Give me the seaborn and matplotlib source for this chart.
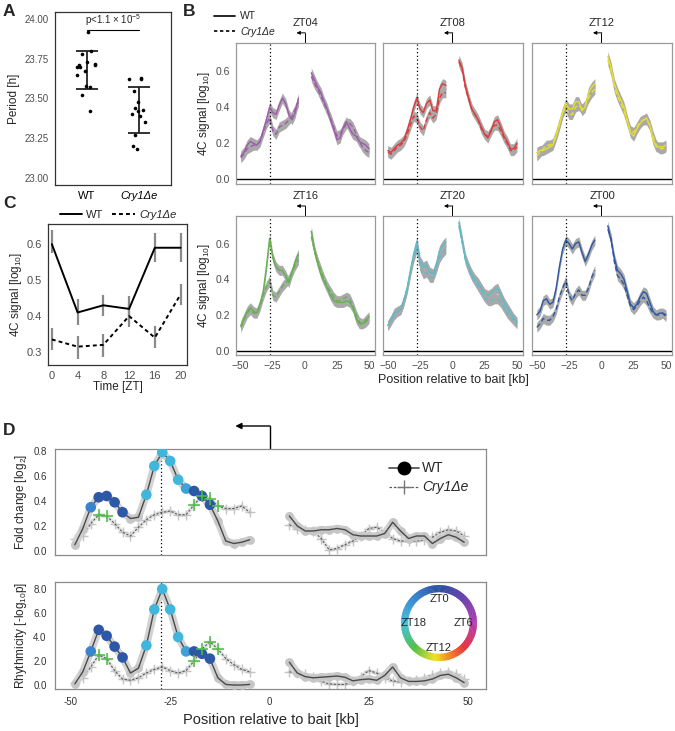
import numpy as np
import pandas as pd
import matplotlib
matplotlib.use("Agg")
import matplotlib.pyplot as plt
import seaborn as sns
from matplotlib.lines import Line2D
from matplotlib.patches import Wedge
from matplotlib.colors import LinearSegmentedColormap

# ------------------------------------------------------------------ data
# Panel A : free-running period
genotypes = ["WT", "Cry1\u0394e"]
period_wt = [23.92, 23.80, 23.78, 23.73, 23.72, 23.71, 23.71, 23.70, 23.70,
             23.67, 23.65, 23.58, 23.57, 23.52, 23.42]
period_ko = [23.63, 23.62, 23.62, 23.55, 23.48, 23.44, 23.43, 23.42, 23.40,
             23.39, 23.35, 23.27, 23.20, 23.18]
p_text = r"p<1.1 $\times$ 10$^{-5}$"

# Panel C : 4C signal at the peak over time
zt_time = [0, 4, 8, 12, 16, 20]
c_wt = [0.60, 0.41, 0.43, 0.42, 0.59, 0.59]
c_wt_lo = [0.575, 0.375, 0.400, 0.390, 0.550, 0.550]
c_wt_hi = [0.640, 0.447, 0.460, 0.455, 0.630, 0.630]
c_ko = [0.335, 0.315, 0.320, 0.400, 0.340, 0.460]
c_ko_lo = [0.305, 0.280, 0.285, 0.370, 0.310, 0.430]
c_ko_hi = [0.367, 0.345, 0.350, 0.435, 0.372, 0.490]

# Panel B : 4C profiles
pos_left = [-50, -47.5, -45, -42.5, -40, -37.5, -35, -32.5, -30, -27.5, -25,
            -22.5, -20, -17.5, -15, -12.5, -10, -7.5, -5]
pos_right = [5, 7.5, 10, 12.5, 15, 17.5, 20, 22.5, 25, 27.5, 30, 32.5, 35,
             37.5, 40, 42.5, 45, 47.5, 50]
zt_labels = ["ZT04", "ZT08", "ZT12", "ZT16", "ZT20", "ZT00"]
zt_colors = ["#a05aae", "#e0393b", "#e8e02a", "#62b34a", "#5cbccb", "#2c58a5"]

zt04_wt_l = [0.13, 0.15, 0.19, 0.21, 0.20, 0.19, 0.21, 0.27, 0.33, 0.40, 0.37, 0.36, 0.41, 0.45, 0.42, 0.36, 0.33, 0.37, 0.45]
zt04_ko_l = [0.12, 0.14, 0.17, 0.18, 0.19, 0.19, 0.21, 0.26, 0.31, 0.34, 0.27, 0.25, 0.29, 0.30, 0.31, 0.33, 0.35, 0.39, 0.43]
zt04_wt_r = [0.59, 0.55, 0.51, 0.48, 0.43, 0.39, 0.33, 0.28, 0.22, 0.23, 0.29, 0.32, 0.28, 0.25, 0.24, 0.21, 0.20, 0.19, 0.17]
zt04_ko_r = [0.57, 0.53, 0.50, 0.46, 0.42, 0.38, 0.34, 0.29, 0.24, 0.25, 0.28, 0.31, 0.31, 0.29, 0.25, 0.21, 0.18, 0.16, 0.15]

zt08_wt_l = [0.16, 0.15, 0.17, 0.19, 0.20, 0.22, 0.27, 0.33, 0.40, 0.45, 0.39, 0.37, 0.42, 0.44, 0.38, 0.38, 0.50, 0.53, 0.52]
zt08_ko_l = [0.15, 0.14, 0.16, 0.18, 0.19, 0.21, 0.25, 0.30, 0.35, 0.34, 0.29, 0.27, 0.33, 0.37, 0.34, 0.36, 0.45, 0.48, 0.48]
zt08_wt_r = [0.66, 0.62, 0.52, 0.45, 0.39, 0.36, 0.33, 0.29, 0.25, 0.23, 0.27, 0.32, 0.33, 0.29, 0.24, 0.21, 0.17, 0.17, 0.20]
zt08_ko_r = [0.65, 0.61, 0.51, 0.45, 0.39, 0.36, 0.33, 0.28, 0.25, 0.24, 0.27, 0.30, 0.30, 0.27, 0.23, 0.20, 0.16, 0.16, 0.18]

zt12_wt_l = [0.15, 0.16, 0.16, 0.17, 0.18, 0.19, 0.24, 0.30, 0.37, 0.42, 0.39, 0.39, 0.43, 0.43, 0.38, 0.40, 0.48, 0.51, 0.53]
zt12_ko_l = [0.13, 0.15, 0.17, 0.19, 0.19, 0.20, 0.25, 0.31, 0.37, 0.40, 0.36, 0.36, 0.40, 0.41, 0.39, 0.41, 0.45, 0.48, 0.50]
zt12_wt_r = [0.68, 0.62, 0.53, 0.48, 0.44, 0.40, 0.33, 0.26, 0.24, 0.28, 0.31, 0.33, 0.34, 0.30, 0.22, 0.18, 0.18, 0.18, 0.19]
zt12_ko_r = [0.66, 0.60, 0.51, 0.46, 0.42, 0.38, 0.32, 0.27, 0.26, 0.29, 0.32, 0.33, 0.33, 0.30, 0.24, 0.19, 0.17, 0.17, 0.18]

zt16_wt_l = [0.14, 0.18, 0.22, 0.24, 0.22, 0.21, 0.26, 0.33, 0.47, 0.63, 0.52, 0.47, 0.45, 0.45, 0.42, 0.38, 0.44, 0.50, 0.54]
zt16_ko_l = [0.13, 0.17, 0.21, 0.23, 0.21, 0.21, 0.25, 0.31, 0.36, 0.39, 0.31, 0.30, 0.33, 0.36, 0.38, 0.40, 0.44, 0.48, 0.51]
zt16_wt_r = [0.67, 0.56, 0.49, 0.43, 0.39, 0.35, 0.31, 0.28, 0.27, 0.27, 0.27, 0.28, 0.27, 0.24, 0.18, 0.15, 0.15, 0.17, 0.19]
zt16_ko_r = [0.64, 0.56, 0.50, 0.45, 0.40, 0.36, 0.33, 0.30, 0.28, 0.28, 0.29, 0.30, 0.29, 0.25, 0.20, 0.16, 0.15, 0.16, 0.18]

zt20_wt_l = [0.14, 0.17, 0.21, 0.22, 0.23, 0.28, 0.35, 0.45, 0.54, 0.61, 0.50, 0.47, 0.48, 0.44, 0.43, 0.48, 0.56, 0.59, 0.61]
zt20_ko_l = [0.14, 0.17, 0.20, 0.22, 0.23, 0.28, 0.35, 0.44, 0.52, 0.58, 0.47, 0.43, 0.44, 0.41, 0.41, 0.46, 0.52, 0.55, 0.57]
zt20_wt_r = [0.72, 0.62, 0.52, 0.47, 0.43, 0.40, 0.38, 0.35, 0.32, 0.31, 0.32, 0.34, 0.35, 0.31, 0.27, 0.24, 0.21, 0.18, 0.16]
zt20_ko_r = [0.70, 0.61, 0.51, 0.46, 0.42, 0.39, 0.36, 0.33, 0.30, 0.28, 0.28, 0.29, 0.29, 0.27, 0.24, 0.21, 0.19, 0.17, 0.15]

zt00_wt_l = [0.20, 0.22, 0.28, 0.29, 0.26, 0.27, 0.35, 0.47, 0.57, 0.62, 0.60, 0.57, 0.60, 0.61, 0.55, 0.50, 0.54, 0.59, 0.62]
zt00_ko_l = [0.13, 0.15, 0.18, 0.17, 0.17, 0.19, 0.23, 0.30, 0.35, 0.39, 0.31, 0.28, 0.32, 0.34, 0.31, 0.31, 0.35, 0.41, 0.45]
zt00_wt_r = [0.70, 0.62, 0.52, 0.45, 0.43, 0.40, 0.33, 0.26, 0.24, 0.26, 0.30, 0.33, 0.32, 0.27, 0.22, 0.20, 0.21, 0.21, 0.20]
zt00_ko_r = [0.68, 0.63, 0.50, 0.42, 0.40, 0.37, 0.31, 0.25, 0.23, 0.25, 0.28, 0.30, 0.28, 0.24, 0.21, 0.20, 0.20, 0.21, 0.19]

# Panel D : fold change and rhythmicity
d_pos_left = [-49, -47, -45, -43, -41, -39, -37, -35, -33, -31, -29, -27, -25,
              -23, -21, -19, -17, -15, -13, -11, -9, -7, -5]
d_pos_right = [5, 7, 9, 11, 13, 15, 17, 19, 21, 23, 25, 27, 29, 31, 33, 35, 37,
               39, 41, 43, 45, 47, 49]
fc_wt_left = [0.05, 0.18, 0.35, 0.43, 0.44, 0.39, 0.31, 0.26, 0.27, 0.45, 0.68, 0.79, 0.72,
              0.57, 0.50, 0.48, 0.44, 0.37, 0.24, 0.08, 0.06, 0.07, 0.09]
fc_ko_left = [0.10, 0.12, 0.22, 0.29, 0.28, 0.22, 0.15, 0.12, 0.19, 0.25, 0.29, 0.31, 0.32,
              0.29, 0.29, 0.37, 0.44, 0.42, 0.36, 0.34, 0.34, 0.36, 0.31]
fc_wt_right = [0.28, 0.20, 0.16, 0.16, 0.17, 0.17, 0.18, 0.17, 0.13, 0.12, 0.12, 0.12, 0.14,
               0.23, 0.16, 0.10, 0.12, 0.12, 0.06, 0.10, 0.13, 0.11, 0.07]
fc_ko_right = [0.21, 0.18, 0.17, 0.16, 0.10, 0.01, 0.02, 0.05, 0.08, 0.12, 0.18, 0.19, 0.15,
               0.10, 0.08, 0.08, 0.08, 0.09, 0.11, 0.15, 0.17, 0.16, 0.12]
rh_wt_left = [0.1, 1.1, 2.8, 4.6, 4.1, 3.2, 2.3, 1.0, 1.4, 3.3, 6.3, 8.0, 6.3,
              4.0, 2.8, 2.8, 2.6, 2.2, 0.6, 0.05, 0.0, 0.0, 0.05]
rh_ko_left = [0.2, 0.6, 1.5, 2.5, 2.2, 1.2, 0.5, 0.4, 0.6, 1.0, 1.3, 1.5, 1.2,
              1.0, 1.2, 2.0, 3.0, 3.6, 3.0, 2.2, 1.7, 1.3, 1.1]
rh_wt_right = [1.9, 1.0, 0.7, 0.6, 0.65, 0.7, 0.75, 0.65, 0.35, 0.45, 0.5, 0.4, 0.8,
               1.5, 0.6, 0.3, 0.3, 0.35, 0.5, 0.8, 0.9, 0.6, 0.2]
rh_ko_right = [1.1, 1.0, 0.9, 0.7, 0.3, 0.1, 0.05, 0.05, 0.3, 0.7, 1.2, 1.0, 0.6,
               0.35, 0.25, 0.3, 0.4, 0.6, 0.8, 1.0, 1.1, 0.9, 0.5]
# peak phase (ZT h) of significantly rhythmic fragments (nan = not significant)
nan = np.nan
wt_phase_left = [nan, nan, 21, 23.5, 23.5, 23.5, 23.5, nan, nan, 18.5, 18.5, 18.5, 18.5,
                 18.5, 19.5, 23.5, 23.5, 23.5, nan, nan, nan, nan, nan]
ko_phase_left = [nan, nan, nan, 15, 15, nan, nan, nan, nan, nan, nan, nan, nan,
                 nan, nan, 15, 15, 15, 15, nan, nan, nan, nan]
peak_kb = -27.3

# ------------------------------------------------------------------ style
sns.set_theme(style="white")
plt.rcParams["font.family"] = ["Liberation Sans", "DejaVu Sans"]
plt.rcParams["mathtext.fontset"] = "custom"
plt.rcParams["mathtext.rm"] = "Liberation Sans"
plt.rcParams["mathtext.it"] = "Liberation Sans:italic"

W, H = 675, 731
fig = plt.figure(figsize=(W / 100, H / 100), dpi=100)


def add_ax(x0, y0, x1, y1):
    return fig.add_axes([x0 / W, 1 - y1 / H, (x1 - x0) / W, (y1 - y0) / H])


TICK_GRAY = "#4d4d4d"


def gg_style(ax, spine="#333333"):
    for s in ax.spines.values():
        s.set_visible(True)
        s.set_color(spine)
        s.set_linewidth(0.9)
    ax.tick_params(axis="both", which="both", direction="out", length=3, width=0.7,
                   color=spine, labelsize=7, labelcolor=TICK_GRAY, pad=1.5)


# phase colour map (ZT0 blue at top, clockwise)
phase_cmap = LinearSegmentedColormap.from_list("phase", [
    (0.0, "#2a4fa0"), (3 / 24, "#6a3fab"), (6 / 24, "#b23eb2"), (9 / 24, "#e8323a"),
    (11 / 24, "#f28a22"), (12.5 / 24, "#efe224"), (15 / 24, "#4fbf45"), (18 / 24, "#43c0df"),
    (21 / 24, "#3a86cf"), (1.0, "#2a4fa0")])

# ------------------------------------------------------------------ Panel A
axA = add_ax(55, 12, 171, 185)
dfA = pd.DataFrame({"genotype": [genotypes[0]] * len(period_wt) + [genotypes[1]] * len(period_ko),
                    "period": period_wt + period_ko})
np.random.seed(3)
sns.stripplot(data=dfA, x="genotype", y="period", order=genotypes, color="black",
              size=2.6, jitter=0.2, ax=axA, zorder=3)
for i, vals in enumerate([period_wt, period_ko]):
    m, s = np.mean(vals), np.std(vals, ddof=1)
    axA.errorbar(i, m, yerr=s, color="#222222", capsize=8, lw=1.3, capthick=1.3, zorder=2)
axA.set_xlim(-0.6, 1.6)
axA.set_ylim(22.956, 24.044)
axA.set_yticks([23.0, 23.25, 23.5, 23.75, 24.0])
axA.set_yticklabels(["23.00", "23.25", "23.50", "23.75", "24.00"])
axA.set_xlabel("")
axA.set_ylabel("Period [h]", fontsize=8.5, labelpad=3)
gg_style(axA)
axA.tick_params(axis="x", labelsize=8, labelcolor="black")
axA.get_xticklabels()[1].set_style("italic")
axA.plot([0, 1], [23.93, 23.93], color="black", lw=0.8)
axA.text(0.5, 23.945, p_text, ha="center", va="bottom", fontsize=7)

# ------------------------------------------------------------------ Panel C
axC = add_ax(48, 224, 187, 365)
dfC = pd.DataFrame({"time": zt_time * 2, "signal": c_wt + c_ko,
                    "genotype": [genotypes[0]] * 6 + [genotypes[1]] * 6})
axC.vlines(zt_time, c_wt_lo, c_wt_hi, color="#8a8a8a", lw=1.6, zorder=1)
axC.vlines(zt_time, c_ko_lo, c_ko_hi, color="#8a8a8a", lw=1.6, zorder=1)
sns.lineplot(data=dfC, x="time", y="signal", style="genotype", style_order=genotypes,
             dashes={genotypes[0]: "", genotypes[1]: (2, 1.6)}, color="black", lw=1.4,
             legend=False, ax=axC, zorder=2)
axC.set_xlim(-0.6, 21.0)
axC.set_ylim(0.264, 0.656)
axC.set_xticks(zt_time)
axC.set_yticks([0.3, 0.4, 0.5, 0.6])
axC.set_yticklabels(["0.3", "0.4", "0.5", "0.6"])
axC.set_xlabel("Time [ZT]", fontsize=8.5, labelpad=0)
axC.set_ylabel(r"4C signal [log$_{10}$]", fontsize=8.5, labelpad=2)
gg_style(axC)
axC.tick_params(labelsize=8)
hC = [Line2D([], [], color="black", lw=1.4),
      Line2D([], [], color="black", lw=1.4, ls=(0, (2, 1.6)))]
legC = fig.legend(hC, genotypes, loc="center", bbox_to_anchor=(118 / W, 1 - 215 / H), ncol=2,
                  frameon=False, fontsize=8, handlelength=2.0, handletextpad=0.4, columnspacing=0.8)
legC.get_texts()[1].set_style("italic")

# ------------------------------------------------------------------ Panel B
b_series = [
    (zt04_wt_l, zt04_wt_r, zt04_ko_l, zt04_ko_r),
    (zt08_wt_l, zt08_wt_r, zt08_ko_l, zt08_ko_r),
    (zt12_wt_l, zt12_wt_r, zt12_ko_l, zt12_ko_r),
    (zt16_wt_l, zt16_wt_r, zt16_ko_l, zt16_ko_r),
    (zt20_wt_l, zt20_wt_r, zt20_ko_l, zt20_ko_r),
    (zt00_wt_l, zt00_wt_r, zt00_ko_l, zt00_ko_r),
]
col_x = [(236, 375), (383, 523), (532, 672)]
row_y = [(43, 184), (216, 355)]
rib = 0.028
for k in range(6):
    r, c = divmod(k, 3)
    ax = add_ax(col_x[c][0], row_y[r][0], col_x[c][1], row_y[r][1])
    col = zt_colors[k]
    wl, wr, kl, kr = b_series[k]
    for pos, vals in [(pos_left, wl), (pos_right, wr), (pos_left, kl), (pos_right, kr)]:
        v = np.array(vals)
        ax.fill_between(pos, v - rib, v + rib, color="#a9a9a9", lw=0, zorder=1)
    for pos, vals in [(pos_left, wl), (pos_right, wr)]:
        sns.lineplot(x=pos, y=vals, color=col, lw=1.0, ax=ax, zorder=3)
    for pos, vals in [(pos_left, kl), (pos_right, kr)]:
        sns.lineplot(x=pos, y=vals, color=col, lw=1.0, ax=ax, zorder=2,
                     linestyle=(0, (3.5, 2)))
    ax.axhline(0, color="black", lw=1.0, zorder=2)
    ax.axvline(-27, color="black", ls=(0, (1, 2)), lw=0.9, zorder=2)
    ax.set_xlim(-53.7, 54.7)
    ax.set_ylim(-0.025, 0.755)
    gg_style(ax, spine="#9a9a9a")
    ax.set_xticks([-50, -25, 0, 25, 50])
    ax.set_yticks([0.0, 0.2, 0.4, 0.6])
    ax.set_yticklabels(["0.0", "0.2", "0.4", "0.6"])
    ax.set_xticklabels(["\u221250", "\u221225", "0", "25", "50"])
    if r == 0:
        ax.tick_params(axis="x", length=0, labelbottom=False)
    if c > 0:
        ax.tick_params(axis="y", length=0, labelleft=False)
    else:
        ax.set_ylabel(r"4C signal [log$_{10}$]", fontsize=8.5, labelpad=2)
    if r == 1 and c == 1:
        ax.set_xlabel("Position relative to bait [kb]", fontsize=9, labelpad=2)
    ax.tick_params(labelsize=7.5)
    ax.set_title(zt_labels[k], fontsize=8, pad=12)
    tr = ax.get_xaxis_transform()
    ax.plot([0, 0], [1.0, 1.072], color="black", lw=0.7, transform=tr, clip_on=False)
    ax.annotate("", xy=(-6.5, 1.072), xytext=(0.35, 1.072), xycoords=tr, textcoords=tr,
                arrowprops=dict(arrowstyle="-|>", color="black", lw=0.7, mutation_scale=5,
                                shrinkA=0, shrinkB=0), annotation_clip=False)

hB = [Line2D([], [], color="black", lw=1.2),
      Line2D([], [], color="black", lw=1.2, ls=(0, (2, 1.6)))]
legB = fig.legend(hB, genotypes, loc="upper left", bbox_to_anchor=(205 / W, 1 - 2 / H), ncol=1,
                  frameon=False, fontsize=7.5, handlelength=2.0, handletextpad=0.5,
                  labelspacing=0.5)
legB.get_texts()[1].set_style("italic")

# ------------------------------------------------------------------ Panel D
axD1 = add_ax(55, 449, 486, 555)
axD2 = add_ax(55, 582, 486, 689)
d_sets = [
    (axD1, fc_wt_left, fc_ko_left, fc_wt_right, fc_ko_right),
    (axD2, rh_wt_left, rh_ko_left, rh_wt_right, rh_ko_right),
]
wt_cols = [phase_cmap(p / 24) if not np.isnan(p) else None for p in wt_phase_left]
for ax, wl, kl, wr, kr in d_sets:
    for pos, wv, kv in [(d_pos_left, wl, kl), (d_pos_right, wr, kr)]:
        sns.lineplot(x=pos, y=kv, color="#e4e4e4", lw=3.0, ax=ax, zorder=1)
        sns.scatterplot(x=pos, y=kv, marker="+", color="#c4c4c4", s=60, linewidth=1.0,
                        ax=ax, zorder=2)
        sns.lineplot(x=pos, y=kv, color="#5a5a5a", lw=0.8, linestyle=(0, (2, 1.5)), ax=ax,
                     zorder=3)
        sns.lineplot(x=pos, y=wv, color="#d2d2d2", lw=5.5, ax=ax, zorder=4,
                     solid_capstyle="round")
        sns.scatterplot(x=pos, y=wv, marker="o", color="#c6c6c6", s=40, linewidth=0,
                        ax=ax, zorder=4)
        sns.lineplot(x=pos, y=wv, color="#4a4a4a", lw=1.0, ax=ax, zorder=5)
    # significant fragments coloured by phase
    sig_w = [i for i, p in enumerate(wt_phase_left) if not np.isnan(p)]
    sns.scatterplot(x=[d_pos_left[i] for i in sig_w], y=[wl[i] for i in sig_w],
                    color=[wt_cols[i] for i in sig_w], s=58, linewidth=0, ax=ax, zorder=6)
    sig_k = [i for i, p in enumerate(ko_phase_left) if not np.isnan(p)]
    sns.scatterplot(x=[d_pos_left[i] for i in sig_k], y=[kl[i] for i in sig_k], marker="+",
                    color=[phase_cmap(ko_phase_left[i] / 24) for i in sig_k], s=75,
                    linewidth=1.1, ax=ax, zorder=6)
    ax.axvline(peak_kb, color="black", ls=(0, (1, 2)), lw=0.9, zorder=1)
    ax.set_xlim(-54, 54.5)
    ax.set_xticks([-50, -25, 0, 25, 50])
    for s in ax.spines.values():
        s.set_visible(True)
        s.set_color("#8a8a8a")
        s.set_linewidth(0.9)
    ax.tick_params(axis="both", direction="out", length=4, width=0.8, color="#333333",
                   labelsize=7, labelcolor="#333333", pad=2)

axD1.set_ylim(-0.032, 0.816)
axD1.set_yticks([0.0, 0.2, 0.4, 0.6, 0.8])
axD1.set_yticklabels(["0.0", "0.2", "0.4", "0.6", "0.8"])
axD1.tick_params(axis="x", labelbottom=False)
axD1.set_ylabel(r"Fold change [log$_2$]", fontsize=8.5, labelpad=3)
axD2.set_ylim(-0.33, 8.58)
axD2.set_yticks([0, 2, 4, 6, 8])
axD2.set_yticklabels(["0.0", "2.0", "4.0", "6.0", "8.0"])
axD2.set_xticklabels(["-50", "-25", "0", "25", "50"])
axD2.set_ylabel(r"Rhythmicity [-log$_{10}$p]", fontsize=8.5, labelpad=3)
axD2.set_xlabel("Position relative to bait [kb]", fontsize=10.5, labelpad=4)

# bait arrow above D
trD = axD1.get_xaxis_transform()
axD1.plot([0, 0], [1.0, 1.217], color="black", lw=1.0, transform=trD, clip_on=False)
axD1.annotate("", xy=(-8.6, 1.217), xytext=(0.12, 1.217), xycoords=trD, textcoords=trD,
              arrowprops=dict(arrowstyle="-|>", color="black", lw=1.0, mutation_scale=9,
                              shrinkA=0, shrinkB=0), annotation_clip=False)

hD = [Line2D([], [], color="#4a4a4a", lw=1.2, marker="o", markersize=9,
             markerfacecolor="black", markeredgecolor="black"),
      Line2D([], [], color="#5a5a5a", lw=0.9, ls=(0, (2, 1.5)), marker="+", markersize=10,
             markeredgecolor="#777777", markeredgewidth=1.0)]
legD = axD1.legend(hD, genotypes, loc="upper left", bbox_to_anchor=(0.745, 1.0), frameon=False,
                   fontsize=10, handlelength=2.2, handletextpad=0.2, labelspacing=0.35)
legD.get_texts()[1].set_style("italic")

# phase colour wheel
axR = fig.add_axes([401 / W, 1 - 661 / H, 76 / W, 76 / H])
axR.set_xlim(-1, 1)
axR.set_ylim(-1, 1)
axR.set_aspect("equal")
axR.axis("off")
nseg = 240
for j in range(nseg):
    ang = 90 - j * 360 / nseg
    axR.add_patch(Wedge((0, 0), 1.0, ang - 360 / nseg / 2 - 0.4, ang + 360 / nseg / 2 + 0.4,
                        width=0.19, color=phase_cmap(j / nseg), lw=0))
for lab, (tx, ty) in zip(["ZT0", "ZT6", "ZT12", "ZT18"],
                         [(0, 0.64), (0.64, 0), (0, -0.66), (-0.68, 0)]):
    axR.text(tx, ty, lab, ha="center", va="center", fontsize=8)

# ------------------------------------------------------------------ panel letters
for lab, (x, y) in {"A": (3, 12), "B": (183, 12), "C": (3, 203), "D": (3, 431)}.items():
    fig.text(x / W, 1 - y / H, lab, fontsize=12.5, fontweight="bold", ha="left", va="center")

fig.savefig("out.png", dpi=100)
